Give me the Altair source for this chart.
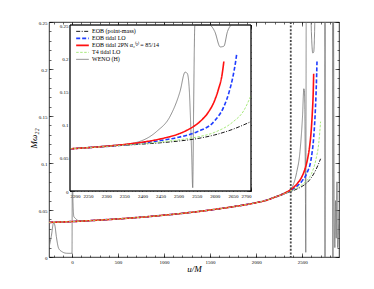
import altair as alt
import pandas as pd

# ---------------- data ----------------
series_names = ["EOB (point-mass)", "EOB tidal LO", "EOB tidal 2PN α₂⁽²⁾ = 85/14", "T4 tidal LO", "WENO (H)"]
series_colors = ["#000000", "#1f3dff", "#ff1010", "#9ee66e", "#707070"]
series_dash = [[4, 1.5, 1, 1.5], [4, 2], [1, 0], [2.5, 1.5], [1, 0]]
series_width = [0.9, 1.6, 1.6, 0.9, 0.8]

u_pm = [-250, 0, 250, 500, 750, 1000, 1250, 1500, 1750, 2000, 2100, 2200, 2300, 2350, 2400, 2450, 2500, 2550, 2600, 2650, 2700]
w_pm = [0.0368, 0.0377, 0.0390, 0.0405, 0.0423, 0.0445, 0.0470, 0.0500, 0.0535, 0.0578, 0.0600, 0.0635, 0.0670, 0.0688, 0.0706, 0.0726, 0.0752, 0.0788, 0.0845, 0.0930, 0.1045]

u_lo = [-250, 0, 250, 500, 750, 1000, 1250, 1500, 1750, 2000, 2100, 2200, 2300, 2350, 2400, 2450, 2500, 2550, 2600, 2625, 2640, 2650, 2657, 2661]
w_lo = [0.0368, 0.0377, 0.0390, 0.0405, 0.0423, 0.0445, 0.0470, 0.0500, 0.0535, 0.0578, 0.0600, 0.0635, 0.0672, 0.0695, 0.0722, 0.0760, 0.0810, 0.0890, 0.1060, 0.1270, 0.1500, 0.1720, 0.1930, 0.2080]

u_2pn = [-250, 0, 250, 500, 750, 1000, 1250, 1500, 1750, 2000, 2100, 2200, 2300, 2350, 2400, 2450, 2500, 2530, 2560, 2580, 2600, 2610, 2620, 2625]
w_2pn = [0.0368, 0.0377, 0.0390, 0.0405, 0.0423, 0.0445, 0.0470, 0.0500, 0.0535, 0.0578, 0.0600, 0.0635, 0.0674, 0.0700, 0.0735, 0.0785, 0.0860, 0.0935, 0.1050, 0.1170, 0.1370, 0.1530, 0.1750, 0.1950]

u_t4 = [-250, 0, 250, 500, 750, 1000, 1250, 1500, 1750, 2000, 2100, 2200, 2300, 2350, 2400, 2450, 2500, 2550, 2600, 2650, 2680, 2700]
w_t4 = [0.0368, 0.0377, 0.0390, 0.0405, 0.0423, 0.0445, 0.0470, 0.0500, 0.0535, 0.0578, 0.0600, 0.0635, 0.0671, 0.0692, 0.0712, 0.0738, 0.0770, 0.0812, 0.0885, 0.1040, 0.1210, 0.1440]

u_weno = [-250, -225, -200, -185, -170, -145, -108, -60, -18, 0, 4, 10, 20, 36, 72, 150, 250, 500, 750, 1000, 1250, 1500, 1750, 2000, 2100, 2200, 2300, 2374, 2440, 2476, 2504, 2518, 2524, 2529, 2533, 2536, 2539, 2541, 2545, 2585, 2600, 2615, 2625, 2635, 2645, 2745, 2748, 2752, 2830, 2834, 2838, 2848, 2855, 2862, 2870, 2878, 2885, 2900]
w_weno = [0.0100, 0.0220, 0.0365, 0.0330, 0.0216, 0.0092, 0.0056, 0.0040, 0.0039, 0.0040, 0.1300, 0.0600, 0.0430, 0.0412, 0.0386, 0.0383, 0.0390, 0.0405, 0.0423, 0.0445, 0.0470, 0.0500, 0.0535, 0.0578, 0.0600, 0.0638, 0.0680, 0.0720, 0.0900, 0.1120, 0.1500, 0.1790, 0.1770, 0.1570, 0.1070, 0.0570, 0.0050, 0.1000, 0.3000, 0.3000, 0.2400, 0.2170, 0.2180, 0.2400, 0.3000, 0.3000, -0.0100, 0.3000, 0.3000, -0.0100, 0.3000, 0.0500, 0.0100, 0.0600, 0.0200, 0.0800, 0.0100, 0.0500]

vline_u = [2376]

main_x_domain = [-250, 2900]
main_y_domain = [0, 0.25]
main_x_major = [0, 500, 1000, 1500, 2000, 2500]
main_x_minor = list(range(-200, 2900, 100))
main_y_major = [0, 0.05, 0.1, 0.15, 0.2, 0.25]
main_y_minor = [round(i * 0.01, 2) for i in range(0, 26)]

inset_x_domain = [2200, 2700]
inset_y_domain = [0, 0.25]
inset_x_major = [2200, 2250, 2300, 2350, 2400, 2450, 2500, 2550, 2600, 2650, 2700]
inset_x_minor = list(range(2200, 2701, 10))
inset_y_major = [0, 0.05, 0.1, 0.15, 0.2, 0.25]
inset_y_minor = [round(i * 0.01, 2) for i in range(0, 26)]

# ---------------- table ----------------
parts = []
for name, us, ws in zip(series_names, [u_pm, u_lo, u_2pn, u_t4, u_weno], [w_pm, w_lo, w_2pn, w_t4, w_weno]):
    parts.append(pd.DataFrame({"series": name, "u": us, "w": ws}))
df = pd.concat(parts, ignore_index=True)
WENO = series_names[4]

FONT = "Liberation Serif"
W, H = 290, 235
# inset box in plot-pixel coordinates
IX0, IX1, IY0, IY1 = 21, 202, 3, 169

color_scale = alt.Scale(type="ordinal", domain=series_names, range=series_colors)
dash_scale = alt.Scale(type="ordinal", domain=series_names, range=series_dash)
width_scale = alt.Scale(type="ordinal", domain=series_names, range=series_width)

main_x = alt.Scale(domain=main_x_domain, nice=False, zero=False)
main_y = alt.Scale(domain=main_y_domain, nice=False, zero=False)
inset_x = alt.Scale(domain=inset_x_domain, range=[IX0, IX1], nice=False, zero=False, clamp=True)
inset_y = alt.Scale(domain=inset_y_domain, range=[IY1, IY0], nice=False, zero=False, clamp=True)


def ax(orient, values, labels, offset, ticksize, fmt="~g", **kw):
    return alt.Axis(orient=orient, values=values, labels=labels, offset=offset, tickSize=ticksize,
                    domain=False, grid=False, tickColor="black", tickWidth=0.6,
                    labelFont=FONT, labelFontSize=5, labelColor="black", format=fmt,
                    labelPadding=2, **kw)


leg = alt.Legend(title=None, orient="none", legendX=26, legendY=6, padding=0,
                 symbolType="stroke", symbolSize=160, clipHeight=6.7, rowPadding=0,
                 labelFont=FONT, labelFontSize=6, labelOffset=2, labelColor="black")


def style(legend):
    return dict(
        color=alt.Color("series:N", scale=color_scale, legend=legend, sort=series_names),
        strokeDash=alt.StrokeDash("series:N", scale=dash_scale, legend=legend, sort=series_names),
        strokeWidth=alt.StrokeWidth("series:N", scale=width_scale, legend=legend, sort=series_names),
    )


# ---------------- main panel ----------------
xaxis_main = ax("bottom", main_x_major, True, -4, 4, fmt="d", title="u/M", titleFont=FONT, titleFontStyle="italic",
                titleFontWeight="normal", titleFontSize=9, titleColor="black", titleX=145, titleY=15,
                titleBaseline="middle", titleAlign="center")
yaxis_main = ax("left", main_y_major, True, -4, 4, title="Mω₂₂", titleFont=FONT, titleFontStyle="italic",
                titleFontWeight="normal", titleFontSize=9, titleColor="black", titleX=-20, titleY=116,
                titleAngle=270, titleBaseline="middle", titleAlign="center")

main_weno = alt.Chart(df).transform_filter(alt.datum.series == WENO).mark_line(clip=True, interpolate="monotone").encode(
    x=alt.X("u:Q", scale=main_x, axis=xaxis_main),
    y=alt.Y("w:Q", scale=main_y, axis=yaxis_main),
    **style(leg),
)
main_models = alt.Chart(df).transform_filter(alt.datum.series != WENO).mark_line(clip=True, interpolate="monotone").encode(
    x=alt.X("u:Q", scale=main_x, axis=None),
    y=alt.Y("w:Q", scale=main_y, axis=None),
    **style(leg),
)


def axis_layer(xs, ys, xa, ya, filt=None):
    c = alt.Chart(df)
    if filt is not None:
        c = c.transform_filter(filt)
    return c.mark_line(opacity=0).encode(
        x=alt.X("u:Q", scale=xs, axis=xa),
        y=alt.Y("w:Q", scale=ys, axis=ya),
        detail="series:N",
    )


main_minor = axis_layer(main_x, main_y,
                        ax("bottom", main_x_minor, False, -2, 2, title=None),
                        ax("left", main_y_minor, False, -2, 2, title=None))
main_mirror = axis_layer(main_x, main_y,
                         ax("top", main_x_major, False, -4, 4, title=None),
                         ax("right", main_y_major, False, -4, 4, title=None))
main_mirror_minor = axis_layer(main_x, main_y,
                               ax("top", main_x_minor, False, -2, 2, title=None),
                               ax("right", main_y_minor, False, -2, 2, title=None))

vline = alt.Chart(pd.DataFrame({"u": vline_u})).mark_rule(color="#4a4a4a", strokeDash=[2, 1.6], strokeWidth=1.8).encode(
    x=alt.X("u:Q", scale=main_x, axis=None)
)

main = alt.layer(main_weno, main_models, vline, main_minor, main_mirror, main_mirror_minor).resolve_axis(x="independent", y="independent")

# ---------------- inset ----------------
box = pd.DataFrame({"u0": [inset_x_domain[0]], "u1": [inset_x_domain[1]], "w0": [inset_y_domain[0]], "w1": [inset_y_domain[1]]})
inset_bg = alt.Chart(box).mark_rect(fill="white", stroke="black", strokeWidth=0.8).encode(
    x=alt.X("u0:Q", scale=inset_x, axis=None), x2="u1",
    y=alt.Y("w0:Q", scale=inset_y, axis=None), y2="w1",
)
inset_frame = alt.Chart(box).mark_rect(fillOpacity=0, stroke="black", strokeWidth=0.8).encode(
    x=alt.X("u0:Q", scale=inset_x, axis=None), x2="u1",
    y=alt.Y("w0:Q", scale=inset_y, axis=None), y2="w1",
)
in_filter = (alt.datum.u >= inset_x_domain[0]) & (alt.datum.u <= inset_x_domain[1])
inset_weno = alt.Chart(df).transform_filter(in_filter).transform_filter(alt.datum.series == WENO).mark_line(interpolate="monotone").encode(
    x=alt.X("u:Q", scale=inset_x, axis=None),
    y=alt.Y("w:Q", scale=inset_y, axis=None),
    **style(None),
)
inset_models = alt.Chart(df).transform_filter(in_filter).transform_filter(alt.datum.series != WENO).mark_line(interpolate="monotone").encode(
    x=alt.X("u:Q", scale=inset_x, axis=None),
    y=alt.Y("w:Q", scale=inset_y, axis=None),
    **style(None),
)
ib = IY1 - H
inset_ax1 = axis_layer(inset_x, inset_y,
                       ax("bottom", inset_x_major, True, ib - 4, 4, fmt="d", title=None),
                       ax("left", inset_y_major, True, -(IX0 + 4), 4, title=None), in_filter)
inset_ax2 = axis_layer(inset_x, inset_y,
                       ax("bottom", inset_x_minor, False, ib - 2, 2, title=None),
                       ax("left", inset_y_minor, False, -(IX0 + 2), 2, title=None), in_filter)
inset_ax3 = axis_layer(inset_x, inset_y,
                       ax("top", inset_x_major, False, -(IY0 + 4), 4, title=None),
                       ax("right", inset_y_major, False, IX1 - 4 - W, 4, title=None), in_filter)
inset_ax4 = axis_layer(inset_x, inset_y,
                       ax("top", inset_x_minor, False, -(IY0 + 2), 2, title=None),
                       ax("right", inset_y_minor, False, IX1 - 2 - W, 2, title=None), in_filter)

inset = alt.layer(inset_bg, inset_weno, inset_models, inset_frame, inset_ax1, inset_ax2, inset_ax3, inset_ax4).resolve_axis(
    x="independent", y="independent")

chart = alt.layer(main, inset).resolve_scale(x="independent", y="independent").properties(
    width=W, height=H,
    autosize=alt.AutoSizeParams(type="none"),
    padding={"left": 41, "top": 14, "right": 27, "bottom": 24},
    background="white",
).configure_view(stroke="black", strokeWidth=0.8)

chart.save("out.html", embed_options={"renderer": "svg", "actions": False})
